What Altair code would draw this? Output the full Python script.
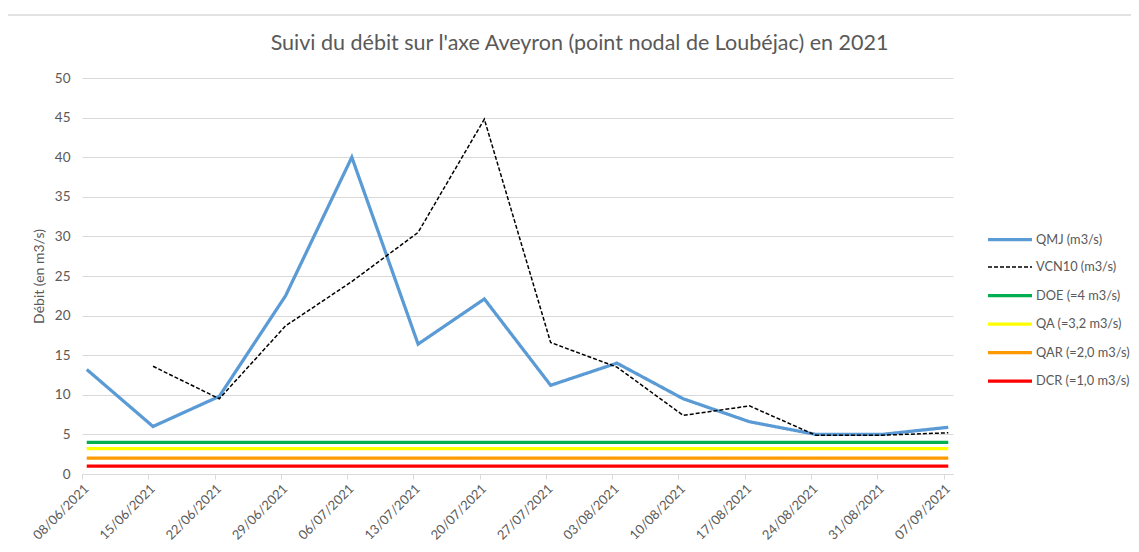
import altair as alt
import pandas as pd
from datetime import datetime

# ---- data ----
dates = ["08/06/2021", "15/06/2021", "22/06/2021", "29/06/2021", "06/07/2021",
         "13/07/2021", "20/07/2021", "27/07/2021", "03/08/2021", "10/08/2021",
         "17/08/2021", "24/08/2021", "31/08/2021", "07/09/2021"]
qmj = [13.2, 6.0, 9.8, 22.5, 40.0, 16.4, 22.1, 11.2, 14.0, 9.5, 6.6, 5.0, 5.0, 5.9]
vcn10 = [None, 13.6, 9.5, 18.7, 24.3, 30.5, 44.8, 16.6, 13.5, 7.4, 8.6, 4.9, 4.9, 5.2]
threshold_names = ["DOE (=4 m3/s)", "QA (=3,2 m3/s)", "QAR (=2,0 m3/s)", "DCR (=1,0 m3/s)"]
threshold_values = [4.0, 3.2, 2.0, 1.0]

series_names = ["QMJ (m3/s)", "VCN10 (m3/s)"] + threshold_names
series_colors = ["#5B9BD5", "#000000", "#00B050", "#FFFF00", "#FF9900", "#FF0000"]
series_dash = [[1, 0], [4, 2], [1, 0], [1, 0], [1, 0], [1, 0]]
series_width = [3.25, 1.5, 3.25, 3.25, 3.25, 3.25]

title_text = "Suivi du débit sur l'axe Aveyron (point nodal de Loubéjac) en 2021"
y_title = "Débit (en m3/s)"

# ---- build table ----
d0 = datetime.strptime(dates[0], "%d/%m/%Y")
offsets = [(datetime.strptime(d, "%d/%m/%Y") - d0).days for d in dates]

rows = []
for i, off in enumerate(offsets):
    rows.append({"x": off + 0.5, "value": qmj[i], "series": series_names[0]})
    if vcn10[i] is not None:
        rows.append({"x": off + 0.5, "value": vcn10[i], "series": series_names[1]})
    for n, v in zip(threshold_names, threshold_values):
        rows.append({"x": off + 0.5, "value": v, "series": n})
df = pd.DataFrame(rows)

label_expr = "[" + ",".join("'%s'" % d for d in dates) + "][indexof([" + \
    ",".join(str(o) for o in offsets) + "], datum.value)]"

FONT = "Lato"
GREY_TXT = "#595959"
GRID = "#D9D9D9"

x_enc = alt.X(
    "x:Q",
    scale=alt.Scale(domain=[0, offsets[-1] + 1], nice=False, zero=False),
    axis=alt.Axis(
        values=offsets, labelExpr=label_expr, title=None, grid=False,
        labelAngle=-45, labelFontSize=13, labelColor=GREY_TXT, labelFont=FONT,
        domainColor=GRID, tickColor=GRID, tickSize=5, labelPadding=3,
        labelFlush=False, labelOverlap=False,
    ),
)
y_enc = alt.Y(
    "value:Q",
    scale=alt.Scale(domain=[0, 50], nice=False),
    axis=alt.Axis(
        values=list(range(0, 51, 5)), title=y_title, grid=True, gridColor=GRID,
        domain=False, ticks=False, labelPadding=12, labelFontSize=13.5,
        labelColor=GREY_TXT, labelFont=FONT, titleFont=FONT, titleFontSize=14,
        titleColor=GREY_TXT, titleFontWeight="normal", titleX=-43, titleY=198,
        titleBaseline="middle", titleAlign="center",
    ),
)

legend = alt.Legend(
    title=None, orient="none", legendX=915, legendY=148.5,
    symbolType="M-2,0H2", symbolSize=484, labelFont=FONT, labelFontSize=12.8,
    labelColor=GREY_TXT, labelOffset=13, rowPadding=8.5, labelLimit=200,
)

lines = alt.Chart(df).mark_line().encode(
    x=x_enc,
    y=y_enc,
    color=alt.Color("series:N", sort=series_names,
                    scale=alt.Scale(domain=series_names, range=series_colors),
                    legend=legend),
    strokeDash=alt.StrokeDash("series:N", sort=series_names,
                              scale=alt.Scale(domain=series_names, range=series_dash),
                              legend=legend),
    strokeWidth=alt.StrokeWidth("series:N", sort=series_names,
                                scale=alt.Scale(type="ordinal", domain=series_names,
                                                range=series_width),
                                legend=legend),
    order=alt.Order("x:Q"),
    detail="series:N",
)

frame_src = alt.Chart(pd.DataFrame({"a": [0]}))
frame_left = frame_src.mark_rule(color=GRID, strokeWidth=1.5).encode(
    x=alt.value(-75), y=alt.value(-63), y2=alt.value(470))
frame_top = frame_src.mark_rule(color=GRID, strokeWidth=1.5).encode(
    x=alt.value(-75), x2=alt.value(1060), y=alt.value(-63))

chart = alt.layer(frame_left, frame_top, lines).properties(
    width=871,
    height=396,
    padding={"left": 74, "top": 70, "right": 178, "bottom": 70},
    autosize=alt.AutoSizeParams(type="none"),
    title=alt.TitleParams(
        title_text, font=FONT, fontSize=21.5, fontWeight="normal",
        color=GREY_TXT, anchor="middle", dx=62, offset=-40, frame="group",
    ),
).configure(background="white").configure_view(stroke=None)

chart.save("out.html", embed_options={"renderer": "svg", "actions": False})
